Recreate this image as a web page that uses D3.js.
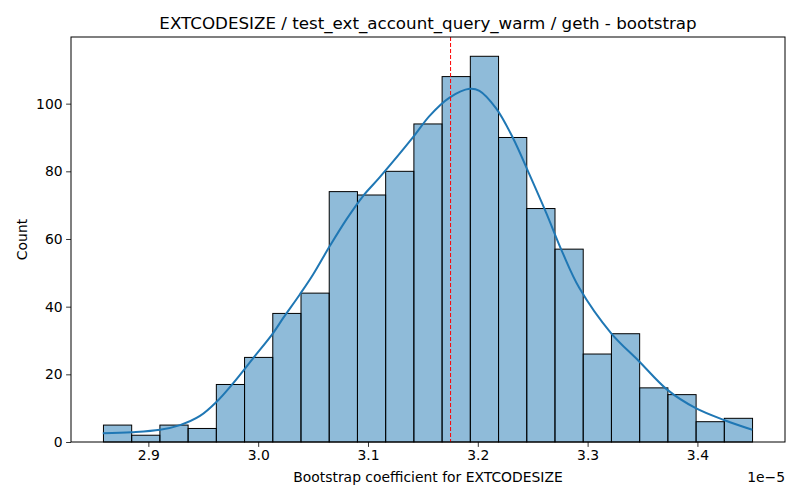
<!DOCTYPE html>
<html>
<head>
<meta charset="utf-8">
<script src="https://cdn.jsdelivr.net/npm/d3@7"></script>
<style>
  body { margin: 0; background: #fff; }
  text { font-family: "DejaVu Sans", sans-serif; }
  .tick text { font-size: 13.9px; fill: #000; }
</style>
</head>
<body>
<svg class="hist" width="800" height="500"></svg>
<script>
// values in units of 1e-5
const binEdges = [2.8591, 2.8848, 2.9105, 2.9362, 2.9619, 2.9876, 3.0133, 3.0390,
  3.0647, 3.0904, 3.1161, 3.1418, 3.1675, 3.1932, 3.2189, 3.2446, 3.2703,
  3.2960, 3.3217, 3.3474, 3.3731, 3.3988, 3.4245, 3.4502];
const counts = [5, 2, 5, 4, 17, 25, 38, 44, 74, 73, 80, 94, 108, 114, 90, 69, 57, 26, 32, 16, 14, 6, 7];

const kdeX = [2.8585, 2.8849, 2.9106, 2.9288, 2.9470, 2.9622, 2.9773, 2.9955, 3.0136,
  3.0227, 3.0379, 3.0500, 3.0652, 3.0804, 3.0955, 3.1106, 3.1409, 3.1561, 3.1743,
  3.1925, 3.2015, 3.2167, 3.2318, 3.2470, 3.2622, 3.2773, 3.2925, 3.3213, 3.3470,
  3.3727, 3.3985, 3.4242, 3.4500];
const kdeY = [2.6, 2.9, 3.6, 5.0, 7.7, 11.9, 17.4, 24.8, 32.2,
  36.6, 43.6, 49.5, 57.9, 65.8, 72.7, 78.2, 90.0, 96.4, 101.8,
  104.4, 103.8, 98.6, 90.0, 79.1, 67.8, 55.9, 45.5, 32.2, 23.8,
  15.4, 10.0, 6.5, 3.6];

const markerX = 3.1752;
const xTicks = [2.9, 3.0, 3.1, 3.2, 3.3, 3.4];
const yTicks = [0, 20, 40, 60, 80, 100];

const svg = d3.select('.hist');
const margin = { left: 71, top: 37, right: 15, bottom: 58 };
const w = +svg.attr('width') - margin.left - margin.right;
const h = +svg.attr('height') - margin.top - margin.bottom;

const xPad = (binEdges[binEdges.length - 1] - binEdges[0]) * 0.05;
const x = d3.scaleLinear()
  .domain([binEdges[0] - xPad, binEdges[binEdges.length - 1] + xPad])
  .range([0, w]);
const y = d3.scaleLinear()
  .domain([0, d3.max(counts) * 1.05])
  .range([h, 0]);

const g = svg.append('g')
  .attr('transform', `translate(${margin.left},${margin.top})`);

// bars
g.selectAll('rect.bar')
  .data(counts)
  .enter()
  .append('rect')
  .attr('class', 'bar')
  .attr('x', (d, i) => x(binEdges[i]))
  .attr('width', (d, i) => x(binEdges[i + 1]) - x(binEdges[i]))
  .attr('y', d => y(d))
  .attr('height', d => h - y(d))
  .attr('fill', '#1f77b4')
  .attr('fill-opacity', 0.5)
  .attr('stroke', '#000')
  .attr('stroke-width', 1);

// kde
const line = d3.line()
  .x((d, i) => x(kdeX[i]))
  .y(d => y(d))
  .curve(d3.curveCatmullRom.alpha(0.5));
g.append('path')
  .datum(kdeY)
  .attr('d', line)
  .attr('fill', 'none')
  .attr('stroke', '#1f77b4')
  .attr('stroke-width', 2);

// marker line
g.append('line')
  .attr('x1', x(markerX)).attr('x2', x(markerX))
  .attr('y1', 0).attr('y2', h)
  .attr('stroke', 'red')
  .attr('stroke-width', 1)
  .attr('stroke-dasharray', '4,2');

// axes
const xAxis = d3.axisBottom(x)
  .tickValues(xTicks)
  .tickFormat(d3.format('.1f'))
  .tickSizeOuter(0)
  .tickSize(4.9)
  .tickPadding(3.5);
const xAxisG = g.append('g')
  .attr('transform', `translate(0,${h})`)
  .call(xAxis);
xAxisG.select('.domain').remove();

const yAxis = d3.axisLeft(y)
  .tickValues(yTicks)
  .tickSizeOuter(0)
  .tickSize(4.9)
  .tickPadding(3.5);
const yAxisG = g.append('g').call(yAxis);
yAxisG.select('.domain').remove();

g.selectAll('.tick line').attr('stroke', '#000').attr('stroke-width', 0.8);

// frame
g.append('rect')
  .attr('width', w)
  .attr('height', h)
  .attr('fill', 'none')
  .attr('stroke', '#000')
  .attr('stroke-width', 1);

// labels
g.append('text')
  .attr('x', w / 2)
  .attr('y', -8)
  .attr('text-anchor', 'middle')
  .attr('font-size', 16.7)
  .text('EXTCODESIZE / test_ext_account_query_warm / geth - bootstrap');

g.append('text')
  .attr('x', w / 2)
  .attr('y', h + 40)
  .attr('text-anchor', 'middle')
  .attr('font-size', 13.9)
  .text('Bootstrap coefficient for EXTCODESIZE');

g.append('text')
  .attr('x', w)
  .attr('y', h + 40)
  .attr('text-anchor', 'end')
  .attr('font-size', 13.9)
  .text('1e\u22125');

g.append('text')
  .attr('transform', `translate(-44,${h / 2}) rotate(-90)`)
  .attr('text-anchor', 'middle')
  .attr('font-size', 13.9)
  .text('Count');
</script>
</body>
</html>
